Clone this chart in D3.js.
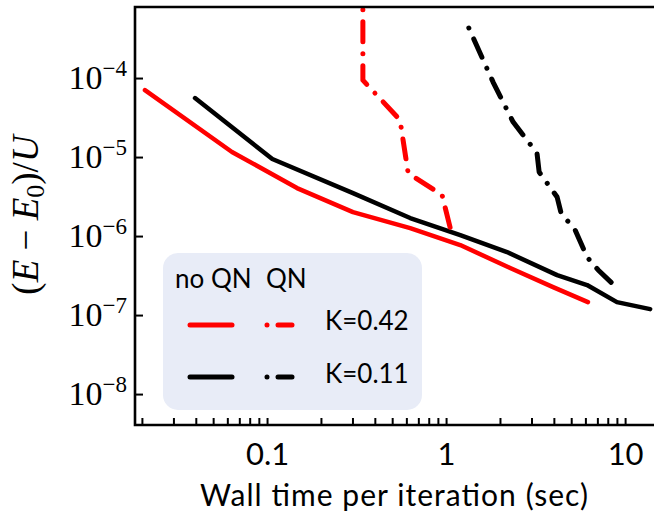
<!DOCTYPE html>
<html>
<head>
<meta charset="utf-8">
<script src="https://cdn.jsdelivr.net/npm/d3@7"></script>
<style>
  body { margin: 0; background: #fff; }
  svg { display: block; }
</style>
</head>
<body>
<svg id="chart" width="654" height="525"></svg>
<script>
// wall time per iteration (sec) and (E - E0)/U
const noQn042Time = [0.0208, 0.0637, 0.147, 0.302, 0.63, 1.20, 2.28, 3.96, 6.2];
const noQn042Err = [7.05e-5, 1.16e-5, 4.05e-6, 2.01e-6, 1.26e-6, 7.7e-7, 3.94e-7, 2.26e-7, 1.46e-7];

const noQn011Time = [0.0396, 0.107, 0.302, 0.63, 1.20, 2.19, 4.17, 6.13, 9.0, 13.8];
const noQn011Err = [5.58e-5, 9.44e-6, 3.5e-6, 1.69e-6, 1.03e-6, 6.27e-7, 3.2e-7, 2.4e-7, 1.46e-7, 1.19e-7];

const qn042Time = [0.343, 0.343, 0.553, 0.614, 0.95, 1.09];
const qn042Err = [7.3e-4, 9.4e-5, 2.94e-5, 6.27e-6, 3.3e-6, 9.4e-7];

const qn011Time = [1.34, 1.83, 2.37, 3.22, 3.31, 4.17, 4.39, 5.26, 6.13, 7.07, 9.02];
const qn011Err = [4.3e-4, 8.9e-5, 2.77e-5, 1.12e-5, 6.46e-6, 3.12e-6, 1.95e-6, 1.19e-6, 5.42e-7, 3.72e-7, 2.2e-7];

const xMajorTicks = [0.1, 1, 10];
const xMinorTicks = [0.02, 0.03, 0.04, 0.05, 0.06, 0.07, 0.08, 0.09,
  0.2, 0.3, 0.4, 0.5, 0.6, 0.7, 0.8, 0.9,
  2, 3, 4, 5, 6, 7, 8, 9];
const yTickExps = [-4, -5, -6, -7, -8];

const legendCols = ['no QN', 'QN'];
const legendRows = ['K=0.42', 'K=0.11'];

const plotLeft = 135, plotRight = 660, plotTop = 7, plotBottom = 425;

const svg = d3.select('#chart');

const x = d3.scaleLog()
  .domain([0.0183, 14.5])
  .range([plotLeft, 654]);

const y = d3.scaleLog()
  .domain([7.93e-4, 4.06e-9])
  .range([plotTop, plotBottom]);

const dashDot = '0.01,12,20,12';

const series = [
  { t: noQn042Time, e: noQn042Err, color: '#ff0000', dash: null },
  { t: noQn011Time, e: noQn011Err, color: '#000000', dash: null },
  { t: qn042Time, e: qn042Err, color: '#ff0000', dash: dashDot },
  { t: qn011Time, e: qn011Err, color: '#000000', dash: dashDot }
];

svg.append('clipPath')
  .attr('id', 'plotClip')
  .append('rect')
  .attr('x', plotLeft)
  .attr('y', plotTop)
  .attr('width', plotRight - plotLeft)
  .attr('height', plotBottom - plotTop);

const line = d3.line()
  .x((d) => x(d[0]))
  .y((d) => y(d[1]));

svg.append('g')
  .attr('clip-path', 'url(#plotClip)')
  .selectAll('path')
  .data(series)
  .enter()
  .append('path')
  .attr('d', (s) => line(s.t.map((t, i) => [t, s.e[i]])))
  .attr('fill', 'none')
  .attr('stroke', (s) => s.color)
  .attr('stroke-width', (s) => (s.dash ? 5 : 4.5))
  .attr('stroke-linecap', 'round')
  .attr('stroke-linejoin', 'round')
  .attr('stroke-dasharray', (s) => s.dash);

// legend
const legend = svg.append('g');

legend.append('rect')
  .attr('x', 163)
  .attr('y', 253)
  .attr('width', 259)
  .attr('height', 157)
  .attr('rx', 15)
  .style('fill', '#e8ecf7');

legend.selectAll('text.col')
  .data(legendCols)
  .enter()
  .append('text')
  .attr('x', (d, i) => [175, 266][i])
  .attr('y', 288)
  .style('font-family', 'Lato')
  .style('font-size', '26px')
  .style('fill', '#000')
  .text((d) => d);

legend.selectAll('text.row')
  .data(legendRows)
  .enter()
  .append('text')
  .attr('x', 325)
  .attr('y', (d, i) => [330, 383][i])
  .style('font-family', 'Lato')
  .style('font-size', '26px')
  .style('fill', '#000')
  .text((d) => d);

const handles = [
  { x0: 190, x1: 232, yy: 325, color: '#ff0000', dash: null },
  { x0: 267, x1: 303, yy: 325, color: '#ff0000', dash: '0.01,11,14,11,0.01' },
  { x0: 190, x1: 232, yy: 377, color: '#000000', dash: null },
  { x0: 267, x1: 303, yy: 377, color: '#000000', dash: '0.01,11,14,11,0.01' }
];

legend.selectAll('line')
  .data(handles)
  .enter()
  .append('line')
  .attr('x1', (d) => d.x0)
  .attr('x2', (d) => d.x1)
  .attr('y1', (d) => d.yy)
  .attr('y2', (d) => d.yy)
  .attr('stroke', (d) => d.color)
  .attr('stroke-width', 5)
  .attr('stroke-linecap', 'round')
  .attr('stroke-dasharray', (d) => d.dash);

// x axis, ticks pointing in
const xAxis = svg.append('g')
  .attr('transform', `translate(0, ${plotBottom})`)
  .call(d3.axisBottom(x)
    .tickValues(xMinorTicks.concat(xMajorTicks))
    .tickSize(-7)
    .tickSizeOuter(0)
    .tickPadding(18)
    .tickFormat((d) => (xMajorTicks.includes(d) ? String(d) : '')));

xAxis.select('.domain').remove();
xAxis.selectAll('line').attr('stroke', '#000').attr('stroke-width', 2);
xAxis.selectAll('text')
  .style('font-family', 'Lato')
  .style('font-size', '31px')
  .style('fill', '#000');

// y axis
const yAxis = svg.append('g')
  .attr('transform', `translate(${plotLeft}, 0)`)
  .call(d3.axisLeft(y)
    .tickValues(yTickExps.map((p) => Math.pow(10, p)))
    .tickSize(-8)
    .tickSizeOuter(0)
    .tickFormat(''));

yAxis.select('.domain').remove();
yAxis.selectAll('line').attr('stroke', '#000').attr('stroke-width', 2);

yAxis.selectAll('.tick')
  .append('text')
  .attr('x', -8)
  .attr('dy', '0.3em')
  .attr('text-anchor', 'end')
  .style('font-family', '"Liberation Serif"')
  .style('font-size', '34px')
  .style('fill', '#000')
  .each(function (d) {
    const t = d3.select(this);
    t.append('tspan').text('10');
    t.append('tspan')
      .attr('dy', -13)
      .style('font-size', '23px')
      .text('\u2212' + (-Math.round(Math.log10(d))));
  });

// spines
svg.append('path')
  .attr('d', `M${plotRight},${plotTop}H${plotLeft}V${plotBottom}H${plotRight}`)
  .attr('fill', 'none')
  .attr('stroke', '#000')
  .attr('stroke-width', 2.6);

// axis labels
svg.append('text')
  .attr('x', 394)
  .attr('y', 506)
  .attr('text-anchor', 'middle')
  .attr('textLength', 388)
  .style('font-family', 'Lato')
  .style('font-size', '30px')
  .style('fill', '#000')
  .text('Wall time per iteration (sec)');

const yLabel = svg.append('text')
  .attr('transform', 'translate(38, 215) rotate(-90)')
  .attr('text-anchor', 'middle')
  .style('font-family', '"Liberation Serif"')
  .style('font-size', '37px')
  .style('fill', '#000');

yLabel.append('tspan').text('(');
yLabel.append('tspan').style('font-style', 'italic').text('E');
yLabel.append('tspan').text(' \u2212 ');
yLabel.append('tspan').style('font-style', 'italic').text('E');
yLabel.append('tspan').attr('dy', 6).style('font-size', '26px').text('0');
yLabel.append('tspan').attr('dy', -6).text(')/');
yLabel.append('tspan').style('font-style', 'italic').text('U');
</script>
</body>
</html>
